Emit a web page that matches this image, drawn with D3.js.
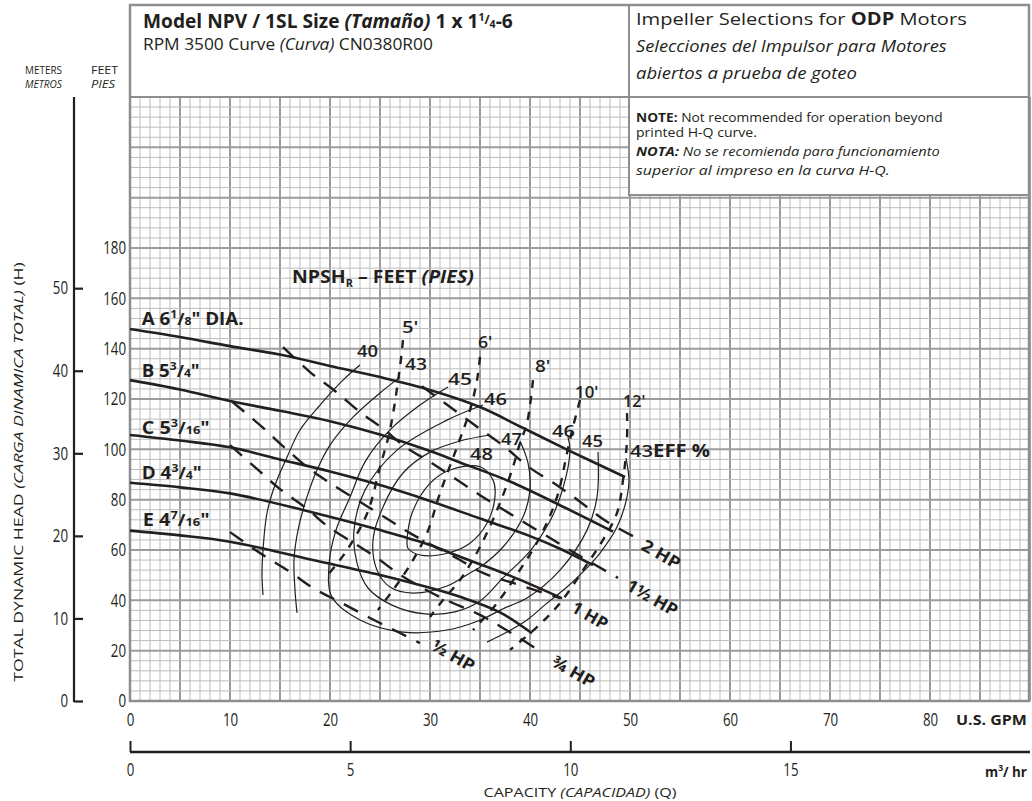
<!DOCTYPE html>
<html><head><meta charset="utf-8">
<script src="https://cdn.jsdelivr.net/npm/d3@7"></script>
<style>body{margin:0;background:#fff}svg text{font-family:'Open Sans','DejaVu Sans',sans-serif;fill:#231f20}</style>
</head><body><svg id="c" width="1032" height="801"></svg>
<script>
// ---------- DATA (GPM, feet) ----------
const gpmTicks = [0,10,20,30,40,50,60,70,80];
const ftTicks = [0,20,40,60,80,100,120,140,160,180];
const mTicks = [0,10,20,30,40,50];
const m3Ticks = [0,5,10,15];

const impA = [[0,147.8],[5,144.6],[10,141],[15.7,137.1],[20,133.1],[25,128.7],[30,123.6],[35,116.8],[39.3,108.5],[43.8,99.7],[49.5,89]];
const impB = [[0,127.5],[5,123.8],[10,119.2],[15,115.3],[20,111.2],[25,105.9],[30,99.3],[33,94.8],[38,87.2],[43.3,77.2],[48.3,67.3]];
const impC = [[0,105.7],[5,103.5],[10,100.8],[15,96],[20,91.2],[25,85.8],[30,79.5],[35,72.5],[40,65.5],[43,60.5],[46.3,54]];
const impD = [[0,86.7],[5,84.9],[10,82.5],[17.3,75.9],[25,67.9],[30,62],[33,57.3],[38,49.8],[43.2,40.8]];
const impE = [[0,67.7],[5,65.8],[10,63.3],[18.3,56],[25,50.1],[30,45],[33,41.4],[37,35.2],[40.2,26.9]];

const eff40 = [[23,133.5],[21.3,127.5],[19,117.6],[17,107.7],[15.7,96.9],[14.5,85.8],[13.7,74.7],[13.3,60],[13.2,50],[13.3,42.1]];
const eff43L = [[27,128.7],[25,122.4],[22.3,112.8],[20,101.7],[18.7,91.8],[17.6,79.9],[16.8,67.9],[16.4,56],[16.5,44.1],[16.7,35]];
const eff43R = [[49.6,96.5],[49.9,87.8],[49.7,81],[48.7,69.1],[47,58.8],[45.3,51.3],[43.7,45.3],[41.7,38.9],[39.7,32.2],[37.7,27.4],[35.7,23.4]];
const eff45 = [[31.8,124.8],[29,117.6],[26,107.7],[23.5,95],[22,81],[20.6,67.9],[19.9,54],[20.2,41.3],[23,32.2],[27.3,27.4],[31.7,28.2],[34.8,31.8],[37.5,37],[39.7,40.9],[43,52],[45.7,67.9],[46.7,81],[46.8,98.9]];
const eff46 = [[35.3,117.6],[31.7,111.6],[26.7,99.7],[23.5,83.8],[22.4,67.9],[22.7,54.8],[23.8,44.9],[26.2,38.1],[29.5,34.6],[32.5,35.4],[35,39.7],[37.3,48.9],[40,59.6],[42,71.5],[43.3,84.6],[44,99.7],[43.8,104.9]];
const eff47 = [[39,103.3],[39.8,94.6],[40,83.8],[39.3,73.1],[37.3,61.2],[35,53.2],[34,50.9],[31.7,45.7],[28.3,42.9],[26,45.3],[24.7,52],[24.3,64],[25.3,77.1],[27.3,90.6],[30,98.9],[33,103.3],[36,105.7]];
const eff48 = [[27.7,62.7],[28.2,74.6],[30,86.5],[32,91.8],[35,93.1],[36.3,87.8],[36.5,81.2],[35.7,70.6],[34,62.7],[31.7,58.7],[29,58],[27.8,60.7]];

const npsh5 = [[27.3,143.4],[27,132.8],[26,107.7],[25,93],[23.7,74.4],[21.5,58.8],[19.6,49.3]];
const npsh6 = [[35,136.7],[34.7,127.5],[34,115.6],[32.7,100.9],[31,82.6],[29.7,66.7],[28,54],[26.3,44.1],[24.8,36.2]];
const npsh8 = [[40.3,127.5],[39.7,110.4],[39,102.5],[38.3,93],[37,78.7],[35,61.2],[33,48.1],[31.3,40.1],[30,33.4]];
const npsh10 = [[45,119.6],[44.3,108.9],[43.7,98.5],[42.7,81],[41,65.2],[38.8,50.9],[36.7,38.9],[34.3,28.2]];
const npsh12 = [[49.7,114.4],[49.7,103.7],[49.3,87.8],[48.7,74.7],[47.3,64],[45.3,52],[43,38.9],[40.7,29.4],[38,20.3]];

const hp2 = [[29.2,125.1],[32.7,114.8],[35,108.1],[37.5,100.9],[39.9,92.9],[42.4,86.5],[44.9,79.5],[47.6,71.5],[50.8,64.5]];
const hp15 = [[15.3,140.6],[18,130.7],[20.5,123.2],[23,114.8],[25.2,108.5],[27.7,100.5],[30,95],[35,81.8],[40.7,67.9],[45,57.6],[48.8,48.9]];
const hp1 = [[10.2,119],[13.2,108.9],[15.4,100.9],[17.7,93],[20,86.6],[22.7,79.9],[25.6,72.7],[28,66.7],[33,56],[35.3,50.9],[38.3,46.9],[43,40.9]];
const hp34 = [[10,101.7],[12.7,92.2],[15,84.2],[17.6,76.7],[20,68.7],[22.7,62],[24.7,56.8],[27.2,49.7],[31,41.3],[35,34.2],[38.3,26.6],[41.2,19.3]];
const hp12 = [[10,67.1],[13.3,58],[16,51.3],[18.3,44.9],[21,39.3],[24,33],[27,27],[29,23]];

// label anchors in data units [text, gpm, ft, width]
const effLabels = [['40',22.7,136.7,21],['43',27.5,131.5,22],['45',31.8,125.5,24],['46',35.4,117.6,23],['47',37.1,101.7,21],['48',34,95.7,23],['46',42.2,104.9,23],['45',45.2,100.9,21]];
const npshLabels = [["5'",27.2,146.2,16],["6'",34.8,140.2,14],["8'",40.5,130.7,15],["10'",44.5,120.4,23],["12'",49.3,116.8,22]];
const hpLabels = [['2 HP',51,60.4,42],['1½ HP',49.5,44.5,56],['1 HP',44,35.8,39],['¾ HP',42,14.3,47],['½ HP',30,20.7,47]];

// ---------- SCALES ----------
const x = d3.scaleLinear().domain([0,90]).range([130,1030]);
const y = d3.scaleLinear().domain([0,240]).range([701,97]);
const ym = d3.scaleLinear().domain([0,240/3.2808]).range([701,97]);
const xm = d3.scaleLinear().domain([0,90/4.4029]).range([130,1030]);

const svg = d3.select('#c');
const INK = '#231f20';

function T(parent, px, py, parts, o = {}) {
  const t = parent.append('text').attr('x',0).attr('y',0)
    .attr('font-size', o.size || 14).attr('text-anchor', o.anchor || 'start');
  if (o.bold) t.attr('font-weight','bold');
  if (o.italic) t.attr('font-style','italic');
  if (typeof parts === 'string') parts = [[parts,{}]];
  parts.forEach(([s,st]) => {
    const ts = t.append('tspan').text(s);
    if (st.b !== undefined) ts.attr('font-weight', st.b ? 'bold' : 'normal');
    if (st.i !== undefined) ts.attr('font-style', st.i ? 'italic' : 'normal');
    if (st.sz) ts.attr('font-size', st.sz);
    if (st.dy) ts.attr('dy', st.dy);
  });
  let sx = o.sx || 1;
  if (o.w) { const L = t.node().getComputedTextLength(); if (L > 0) sx = o.w / L; }
  t.attr('transform', `translate(${px},${py})${o.rot ? ` rotate(${o.rot})` : ''} scale(${sx},1)`);
  return t;
}

// ---------- GRID ----------
const grid = svg.append('g');
d3.range(0,91,1).forEach(g => {
  const major = g % 5 === 0;
  grid.append('line').attr('x1',x(g)).attr('x2',x(g)).attr('y1',y(240)).attr('y2',y(0))
    .attr('stroke', major ? '#9c9c9c' : '#bdbdbd').attr('stroke-width', major ? 2 : 1);
});
d3.range(0,241,4).forEach(f => {
  const major = f % 20 === 0;
  grid.append('line').attr('y1',y(f)).attr('y2',y(f)).attr('x1',x(0)).attr('x2',x(90))
    .attr('stroke', major ? '#9c9c9c' : '#bdbdbd').attr('stroke-width', major ? 2 : 1);
});
// frame & header boxes
svg.append('rect').attr('x',130).attr('y',5).attr('width',899).attr('height',92).attr('fill','#fff').attr('stroke','#8e8e8e').attr('stroke-width',2);
svg.append('rect').attr('x',629).attr('y',97).attr('width',400).attr('height',98).attr('fill','#fff').attr('stroke','#8e8e8e').attr('stroke-width',2);
svg.append('line').attr('x1',629).attr('x2',629).attr('y1',5).attr('y2',97).attr('stroke','#8e8e8e').attr('stroke-width',2);
svg.append('rect').attr('x',130).attr('y',5).attr('width',899).attr('height',696).attr('fill','none').attr('stroke','#8e8e8e').attr('stroke-width',2.5);

// ---------- HEADER TEXT ----------
T(svg,143,28,[['Model NPV / 1SL Size ',{}],['(Tamaño)',{i:true}],[' 1 x 1',{}],['1',{sz:11,dy:-7}],['/',{sz:13,dy:3}],['4',{sz:11,dy:4}],['-6',{dy:0}]],{size:20,bold:true,w:370});
T(svg,143,50,[['RPM 3500 Curve ',{}],['(Curva)',{i:true}],[' CN0380R00',{}]],{size:16.5,w:290});
T(svg,636,25,[['Impeller Selections for ',{}],['ODP',{b:true}],[' Motors',{}]],{size:17,w:331});
T(svg,636,52,'Selecciones del Impulsor para Motores',{size:17,italic:true,w:311});
T(svg,636,79,'abiertos a prueba de goteo',{size:17,italic:true,w:221});
T(svg,636,121.5,[['NOTE:',{b:true}],[' Not recommended for operation beyond',{}]],{size:12.5,w:307});
T(svg,636,136.5,'printed H-Q curve.',{size:12.5,w:121});
T(svg,636,155.5,[['NOTA:',{b:true}],[' No se recomienda para funcionamiento',{}]],{size:12.5,italic:true,w:304});
T(svg,636,175,'superior al impreso en la curva H-Q.',{size:12.5,italic:true,w:254});

// ---------- AXES ----------
const condense = (sel, s) => sel.selectAll('.tick text').each(function(){
  const t = d3.select(this);
  const tx = +t.attr('x') || 0, ty = +t.attr('y') || 0;
  t.attr('x',0).attr('y',0).attr('transform',`translate(${tx},${ty}) scale(${s},1)`);
});
const styleTicks = sel => { sel.attr('font-size',18).attr('font-family','Open Sans');
  sel.selectAll('text').attr('font-size',18).attr('fill',INK); };

const ftAxis = svg.append('g').attr('transform',`translate(${x(0)},0)`)
  .call(d3.axisLeft(y).tickValues(ftTicks).tickSize(0).tickPadding(4).tickFormat(d3.format('d')));
ftAxis.select('.domain').remove();
styleTicks(ftAxis); condense(ftAxis, 0.74);

const mAxis = svg.append('g').attr('transform','translate(74,0)')
  .call(d3.axisLeft(ym).tickValues(mTicks).tickSizeInner(-9).tickSizeOuter(0).tickPadding(6).tickFormat(d3.format('d')));
mAxis.select('.domain').attr('stroke',INK).attr('stroke-width',2.2).attr('d','M0,97V702');
mAxis.selectAll('.tick line').attr('stroke',INK).attr('stroke-width',2.2);
styleTicks(mAxis); condense(mAxis, 0.74);

const gAxis = svg.append('g').attr('transform',`translate(0,${y(0)})`)
  .call(d3.axisBottom(x).tickValues(gpmTicks).tickSize(0).tickPadding(0).tickFormat(d3.format('d')));
gAxis.select('.domain').remove();
styleTicks(gAxis);
gAxis.selectAll('text').attr('dy',null).attr('y',25);
condense(gAxis, 0.74);

const m3Axis = svg.append('g').attr('transform','translate(0,752)')
  .call(d3.axisBottom(xm).tickValues(m3Ticks).tickSizeInner(-11).tickSizeOuter(0).tickPadding(0).tickFormat(d3.format('d')));
m3Axis.select('.domain').attr('stroke',INK).attr('stroke-width',2.5).attr('d','M130,0H1030');
m3Axis.selectAll('.tick line').attr('stroke',INK).attr('stroke-width',2);
styleTicks(m3Axis);
m3Axis.selectAll('text').attr('dy',null).attr('y',24);
condense(m3Axis, 0.74);

T(svg,956,725,'U.S. GPM',{size:14,bold:true,w:71});
T(svg,985,777,[['m',{}],['3',{sz:9,dy:-6}],['/ hr',{dy:6}]],{size:14,bold:true,w:42});
T(svg,580,797,[['CAPACITY ',{}],['(CAPACIDAD)',{i:true}],[' (Q)',{}]],{size:12.5,anchor:'middle',w:193});
T(svg,23,472,[['TOTAL DYNAMIC HEAD ',{}],['(CARGA DINAMICA TOTAL)',{i:true}],[' (H)',{}]],{size:13,anchor:'middle',rot:-90,w:420});
T(svg,25,74,'METERS',{size:11.5,w:37});
T(svg,25,88,'METROS',{size:11.5,italic:true,w:37});
T(svg,91,74,'FEET',{size:11.5,w:27});
T(svg,91,88,'PIES',{size:11.5,italic:true,w:24});

// ---------- CURVES ----------
const line = d3.line().x(d => x(d[0])).y(d => y(d[1])).curve(d3.curveCatmullRom.alpha(0.5));
const lineClosed = d3.line().x(d => x(d[0])).y(d => y(d[1])).curve(d3.curveCatmullRomClosed.alpha(0.5));
const plot = svg.append('g').attr('fill','none').attr('stroke',INK);

[eff40, eff43L, eff43R, eff45, eff46, eff47].forEach(c =>
  plot.append('path').attr('d', line(c)).attr('stroke-width',1.2));
plot.append('path').attr('d', lineClosed(eff48)).attr('stroke-width',1.2);

[npsh5, npsh6, npsh8, npsh10, npsh12].forEach(c =>
  plot.append('path').attr('d', line(c)).attr('stroke-width',2.4).attr('stroke-dasharray','8,8'));

[hp2, hp15, hp1, hp34, hp12].forEach(c =>
  plot.append('path').attr('d', line(c)).attr('stroke-width',2.4).attr('stroke-dasharray','16,11'));

[impA, impB, impC, impD, impE].forEach(c =>
  plot.append('path').attr('d', line(c)).attr('stroke-width',2.6));

// ---------- LABELS ----------
const L = svg.append('g');
const frac = (a, b) => [[a,{sz:11,dy:-7}],['/',{sz:16,dy:7}],[b,{sz:11}]];
T(L,x(1.17),y(149.4),[['A 6',{}],...frac('1','8'),['" DIA.',{}]],{size:17,bold:true,w:102});
T(L,x(1.17),y(128.7),[['B 5',{}],...frac('3','4'),['"',{}]],{size:17,bold:true,w:58});
T(L,x(1.17),y(106.1),[['C 5',{}],...frac('3','16'),['"',{}]],{size:17,bold:true,w:68});
T(L,x(1.17),y(88.2),[['D 4',{}],...frac('3','4'),['"',{}]],{size:17,bold:true,w:60});
T(L,x(1.27),y(69.5),[['E 4',{}],...frac('7','16'),['"',{}]],{size:17,bold:true,w:67});

T(L,x(16.2),y(166.1),[['NPSH',{}],['R',{sz:10,dy:4}],[' – FEET ',{dy:-4}],['(PIES)',{i:true}]],{size:18,bold:true,w:182});

effLabels.forEach(([s,g,f,w]) => T(L,x(g),y(f),s,{size:17,w:w}).attr('font-weight','600'));
T(L,x(50),y(96.9),[['43',{}],['EFF %',{b:true}]],{size:17,w:80}).attr('font-weight','600');
npshLabels.forEach(([s,g,f,w]) => T(L,x(g),y(f),s,{size:17,w:w}).attr('font-weight','600'));

hpLabels.forEach(([s,g,f,w]) => T(L,x(g),y(f),s,{size:17,bold:true,rot:30,w:w}));
</script></body></html>
